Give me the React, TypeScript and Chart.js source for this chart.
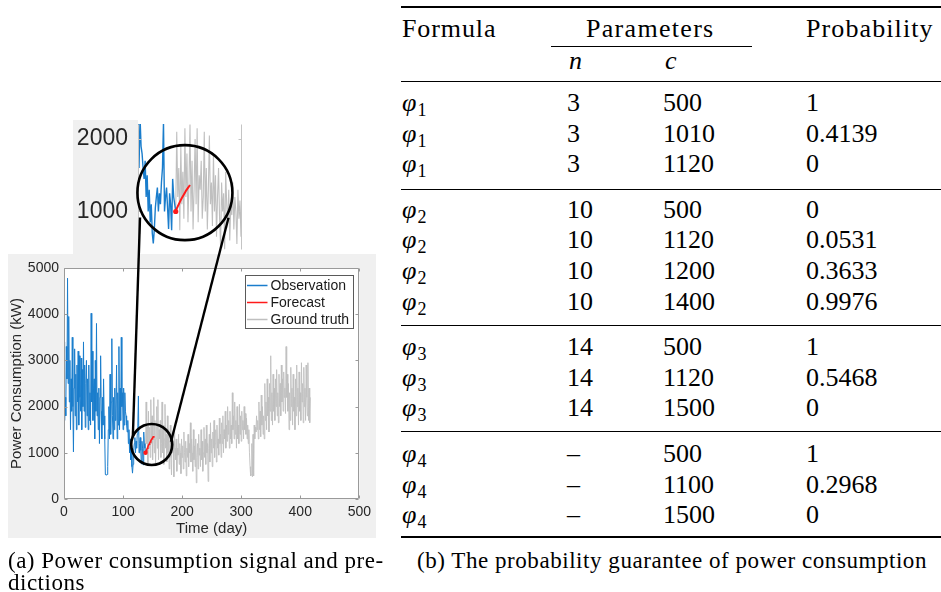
import React, { useEffect, useRef } from 'react';
import { Chart, registerables } from 'chart.js';

Chart.register(...registerables);

// ---------------- data ----------------
const seriesLabels = ['Observation', 'Forecast', 'Ground truth'];

const OBS_START_DAY = 0;
const observation = [
  3400, 1700, 2200, 1800, 3300, 2600, 4780, 2500, 3950, 2100,
  3000, 1500, 2600, 1900, 3500, 2000, 1020, 2400, 3250, 1800,
  2700, 1500, 2900, 2100, 3200, 1600, 3100, 2200, 1900, 3050,
  1500, 2800, 2000, 3400, 1900, 2900, 1550, 2500, 3000, 1800,
  2600, 1500, 2900, 1700, 2300, 1600, 4020, 2100, 3200, 1700,
  2400, 2600, 1300, 3000, 1900, 3800, 1800, 2300, 1500, 2400,
  1200, 2200, 3100, 1900, 1300, 2200, 1600, 2600, 1800, 1300,
  530, 520, 520, 530, 700, 1500, 2000, 1300, 2700, 1400,
  2100, 3470, 1800, 1300, 2200, 1500, 2400, 1700, 1950, 2900,
  1300, 2300, 1600, 3300, 1500, 2400, 1700, 3500, 2000, 2300,
  1500, 2400, 1600, 2300, 1900, 1800, 1600, 1450, 1700, 1200,
  1500, 1000, 1300, 850, 1100, 700, 560, 750, 1050, 1200,
  1330, 1000, 1250, 1100, 1400, 1600, 2230, 1000, 1200, 1330,
  1050, 760, 1250, 1100, 740, 1450, 1200, 1100, 1000,
];

const FORECAST_START_DAY = 138;
const forecast = [
  1000, 1040, 1070, 1100, 1130, 1160, 1185, 1210, 1235, 1260,
  1285, 1305, 1325, 1345, 1365,
];

const TRUTH_START_DAY = 138;
const groundTruth = [
  1000,
  2100, 1200, 1600, 740, 1900, 1100, 1550,
  900, 2150, 1200, 1800, 850, 1400, 2200,
  1000, 1700, 750, 1300, 2000, 1100, 2150,
  850, 1500, 1300, 1700, 900, 1200, 2100,
  1000, 1600, 750, 1300, 2050, 1100, 1400,
  800, 1800, 1000, 1500, 650, 1200, 1600,
  900, 520, 1400, 1000, 1250, 480, 1550,
  1100, 850, 1300, 600, 1100, 950, 1400,
  750, 1200, 1000, 550, 1300, 900, 1150,
  650, 1450, 1000, 800, 1250, 500, 1100,
  900, 1400, 700, 1200, 1000, 1650, 800,
  1300, 1000, 600, 1500, 850, 1150, 700,
  1300, 350, 900, 1200, 650, 1400, 950,
  1100, 700, 1500, 850, 1250, 600, 1000,
  1550, 900, 1300, 750, 1600, 1000, 1200,
  380, 1100, 1400, 800, 1650, 1000, 1300,
  700, 1450, 1100, 1700, 900, 1200, 1500,
  800, 1600, 1100, 1300, 950, 1750, 1200,
  1400, 900, 1650, 1200, 1800, 1000, 1500,
  1300, 1900, 1100, 1600, 1250, 2000, 1400,
  1700, 1100, 1900, 1300, 1600, 1200, 2300,
  1500, 1800, 1300, 2100, 1400, 1700, 1100,
  2000, 1300, 1600, 1200, 2050, 1400, 1800,
  1250, 1900, 1500, 1700, 1300, 2000, 1500,
  1850, 1400, 1750, 1300, 1600, 1200, 1500,
  1000, 700, 500, 520, 1200, 480, 1400,
  500, 1600, 1300, 1550, 1450, 1800, 1500,
  1700, 1300, 2100, 1500, 1900, 1350, 2250,
  1600, 2000, 1400, 1800, 1300, 2500, 1700,
  2100, 1500, 2600, 1800, 2200, 1450, 2500,
  1900, 3100, 1700, 2300, 1600, 2700, 1900,
  2400, 1700, 2600, 2000, 2800, 1800, 2300,
  1650, 2700, 2000, 2500, 1800, 2900, 2100,
  2600, 1900, 2750, 2200, 2400, 1850, 3300,
  2200, 2700, 1900, 2500, 1500, 2300, 1700,
  2850, 2000, 2400, 1600, 2700, 1900, 2200,
  1500, 2600, 1800, 2900, 2000, 2400, 1600,
  2750, 1900, 2300, 1700, 2950, 2100, 2500,
  1650, 2850, 2000, 2400, 1700, 2900, 2200,
  1800, 2950, 1700, 2400, 1650, 2200,
];

// zoom region (data units)
const mainCircleCenter = { day: 148.5, value: 1180 };
const insetCircleCenter = { day: 147, value: 1260 };
const insetDayRange = [101, 203];
const insetValueRange = [468, 2208];
const insetYTicks = [1000, 2000];

// table
const formulaIndex = [1, 1, 1, 2, 2, 2, 2, 3, 3, 3, 4, 4, 4];
const paramN = ['3', '3', '3', '10', '10', '10', '10', '14', '14', '14', '–', '–', '–'];
const paramC = ['500', '1010', '1120', '500', '1120', '1200', '1400', '500', '1120', '1500', '500', '1100', '1500'];
const probability = ['1', '0.4139', '0', '0', '0.0531', '0.3633', '0.9976', '1', '0.5468', '0', '1', '0.2968', '0'];
const captionA = ['(a) Power consumption signal and pre-', 'dictions'];
const captionB = '(b) The probability guarantee of power consumption';

// ---------------- styles ----------------
const SANS = "'Liberation Sans', Arial, Helvetica, sans-serif";
const SERIF = "'Liberation Serif', 'DejaVu Serif', 'Times New Roman', serif";
const TXT = '#262626';
const PANEL = '#f0f0f0';
const OBS_COLOR = '#1a7dcc';
const FC_COLOR = '#ff1a1a';
const GT_COLOR = '#bfbfbf';
const AXIS = '#9a9a9a';

const MAIN = { left: 8, top: 254, w: 368, h: 284 };
const INSET = { left: 73, top: 120, w: 173, h: 134 };
const OVERLAY = { w: 400, h: 545 };

const toPoints = (start: number, arr: number[]) => arr.map((v, i) => ({ x: start + i, y: v }));
const plainLabel = (v: any) => String(v);

function buildDatasets(w: { obs: number; fc: number; gt: number }) {
  return [
    {
      label: seriesLabels[0], data: toPoints(OBS_START_DAY, observation),
      borderColor: OBS_COLOR, borderWidth: w.obs, pointRadius: 0, order: 1, clip: 0,
    },
    {
      label: seriesLabels[1], data: toPoints(FORECAST_START_DAY, forecast),
      borderColor: FC_COLOR, borderWidth: w.fc, order: 0, clip: 0,
      pointRadius: (c: any) => (c.dataIndex === 0 ? w.fc + 0.6 : 0),
      pointBackgroundColor: FC_COLOR, pointBorderWidth: 0,
    },
    {
      label: seriesLabels[2], data: toPoints(TRUTH_START_DAY, groundTruth),
      borderColor: GT_COLOR, borderWidth: w.gt, pointRadius: 0, order: 2, clip: 0,
    },
  ];
}

const panelPlugin = {
  id: 'panel',
  beforeDraw(chart: any, _a: any, o: any) {
    const { ctx, chartArea: a, width, height } = chart;
    ctx.save();
    ctx.fillStyle = PANEL;
    if (o.full) ctx.fillRect(0, 0, width, height);
    else ctx.fillRect(0, 0, a.left, height);
    ctx.fillStyle = '#ffffff';
    ctx.fillRect(a.left, a.top, a.right - a.left, a.bottom - a.top);
    ctx.restore();
  },
  afterDatasetsDraw(chart: any, _a: any, o: any) {
    const { ctx, chartArea: a, scales } = chart;
    ctx.save();
    ctx.strokeStyle = o.axis;
    ctx.lineWidth = 1;
    const L = Math.round(a.left) + 0.5, R = Math.round(a.right) - 0.5;
    const T = Math.round(a.top) + 0.5, B = Math.round(a.bottom) - 0.5;
    ctx.beginPath();
    ctx.moveTo(L, T); ctx.lineTo(L, B);
    ctx.moveTo(R, T); ctx.lineTo(R, B);
    if (o.full) {
      ctx.moveTo(L, T); ctx.lineTo(R, T);
      ctx.moveTo(L, B); ctx.lineTo(R, B);
    }
    const tl = o.tick;
    scales.y.ticks.forEach((t: any) => {
      const y = Math.round(scales.y.getPixelForValue(t.value)) + 0.5;
      ctx.moveTo(L, y); ctx.lineTo(L + tl, y);
      ctx.moveTo(R, y); ctx.lineTo(R - tl, y);
    });
    if (o.full) {
      scales.x.ticks.forEach((t: any) => {
        const x = Math.round(scales.x.getPixelForValue(t.value)) + 0.5;
        ctx.moveTo(x, B); ctx.lineTo(x, B - tl);
        ctx.moveTo(x, T); ctx.lineTo(x, T + tl);
      });
    }
    ctx.stroke();
    ctx.restore();
  },
};

const boxLegendPlugin = {
  id: 'boxLegend',
  afterDraw(chart: any) {
    const { ctx, chartArea: a } = chart;
    const bw = 108, bh = 53;
    const bx = Math.round(a.right - 6 - bw) + 0.5, by = Math.round(a.top + 7) + 0.5;
    ctx.save();
    ctx.fillStyle = '#ffffff';
    ctx.fillRect(bx, by, bw, bh);
    ctx.strokeStyle = '#5a5a5a';
    ctx.lineWidth = 1;
    ctx.strokeRect(bx, by, bw, bh);
    ctx.font = `14px ${SANS}`;
    ctx.textBaseline = 'middle';
    chart.data.datasets.forEach((d: any, i: number) => {
      const y = by + 10 + i * 17;
      ctx.strokeStyle = d.borderColor;
      ctx.lineWidth = 1.5;
      ctx.beginPath();
      ctx.moveTo(bx + 1.5, y); ctx.lineTo(bx + 22, y);
      ctx.stroke();
      ctx.fillStyle = '#1a1a1a';
      ctx.fillText(d.label, bx + 25, y + 0.5);
    });
    ctx.restore();
  },
};

function mainConfig(): any {
  return {
    type: 'line',
    data: { datasets: buildDatasets({ obs: 1, fc: 1.6, gt: 0.9 }) },
    plugins: [panelPlugin, boxLegendPlugin],
    options: {
      responsive: false, animation: false, devicePixelRatio: 1, events: [],
      layout: { padding: { left: 0, top: 14, right: 14, bottom: 0 } },
      plugins: { legend: { display: false }, tooltip: { enabled: false }, panel: { full: true, axis: AXIS, tick: 3 } },
      scales: {
        x: {
          type: 'linear', min: 0, max: 500,
          ticks: { stepSize: 100, font: { family: SANS, size: 14 }, color: TXT, padding: 5, maxRotation: 0, callback: plainLabel },
          grid: { display: false, drawTicks: false }, border: { display: false },
          title: { display: true, text: 'Time (day)', font: { family: SANS, size: 15 }, color: TXT, padding: 0 },
          afterFit: (s: any) => { s.height = 39; },
        },
        y: {
          type: 'linear', min: 0, max: 5000,
          ticks: { stepSize: 1000, font: { family: SANS, size: 14 }, color: TXT, padding: 5, callback: plainLabel },
          grid: { display: false, drawTicks: false }, border: { display: false },
          title: { display: true, text: 'Power Consumption (kW)', font: { family: SANS, size: 15 }, color: TXT, padding: 0 },
          afterFit: (s: any) => { s.width = 56; },
        },
      },
    },
  };
}

function insetConfig(): any {
  return {
    type: 'line',
    data: { datasets: buildDatasets({ obs: 1.4, fc: 2, gt: 1.1 }) },
    plugins: [panelPlugin],
    options: {
      responsive: false, animation: false, devicePixelRatio: 1, events: [],
      layout: { padding: { left: 0, top: 0, right: 3, bottom: 0 } },
      plugins: { legend: { display: false }, tooltip: { enabled: false }, panel: { full: false, axis: '#c4c4c4', tick: 3 } },
      scales: {
        x: { type: 'linear', display: false, min: insetDayRange[0], max: insetDayRange[1] },
        y: {
          type: 'linear', min: insetValueRange[0], max: insetValueRange[1],
          afterBuildTicks: (s: any) => { s.ticks = insetYTicks.map((v) => ({ value: v })); },
          ticks: { font: { family: SANS, size: 23 }, color: TXT, padding: 10, callback: plainLabel },
          grid: { display: false, drawTicks: false }, border: { display: false },
          afterFit: (s: any) => {
            s.width = 65;
            s.paddingTop = 0;
            s.paddingBottom = 0;
          },
        },
      },
    },
  };
}

function drawOverlay(cv: HTMLCanvasElement, main: any, inset: any) {
  const ctx = cv.getContext('2d')!;
  ctx.clearRect(0, 0, cv.width, cv.height);
  const m = {
    x: MAIN.left + main.scales.x.getPixelForValue(mainCircleCenter.day),
    y: MAIN.top + main.scales.y.getPixelForValue(mainCircleCenter.value),
    r: 20.5,
  };
  const n = {
    x: INSET.left + inset.scales.x.getPixelForValue(insetCircleCenter.day),
    y: INSET.top + inset.scales.y.getPixelForValue(insetCircleCenter.value),
    r: 47.5,
  };
  ctx.strokeStyle = '#000000';
  ctx.lineWidth = 2.6;
  ctx.beginPath(); ctx.arc(m.x, m.y, m.r, 0, Math.PI * 2); ctx.stroke();
  ctx.beginPath(); ctx.arc(n.x, n.y, n.r, 0, Math.PI * 2); ctx.stroke();
  const pt = (c: any, deg: number, k: number) => ({
    x: c.x + c.r * k * Math.cos((deg * Math.PI) / 180),
    y: c.y - c.r * k * Math.sin((deg * Math.PI) / 180),
  });
  const pairs = [
    [pt(m, 157, 1), pt(n, 209, 1.08)],
    [pt(m, 8, 0.95), pt(n, -30, 1.06)],
  ];
  ctx.lineWidth = 2.4;
  pairs.forEach(([p, q]) => {
    ctx.beginPath(); ctx.moveTo(p.x, p.y); ctx.lineTo(q.x, q.y); ctx.stroke();
  });
}

// ---------------- table helpers ----------------
const ROW_Y0 = 103;
const ROW_PITCH = 30.6;
const GROUP_GAP = 15;
const COL = { f: 402, n: 567, c: 663, p: 806 };
const groupRuleY = [189, 325, 431];

function Txt(props: { x: number; y: number; size?: number; italic?: boolean; ls?: number; children: any }) {
  const size = props.size ?? 26;
  const lh = 30;
  return (
    <div
      style={{
        position: 'absolute', left: props.x, top: props.y - lh / 2, height: lh, lineHeight: `${lh}px`,
        fontFamily: SERIF, fontSize: size, fontStyle: props.italic ? 'italic' : 'normal',
        letterSpacing: props.ls ?? 0, whiteSpace: 'nowrap', color: '#000',
      }}
    >
      {props.children}
    </div>
  );
}

function Rule(props: { x: number; y: number; w: number; h: number }) {
  return <div style={{ position: 'absolute', left: props.x, top: props.y, width: props.w, height: props.h, background: '#000' }} />;
}

export default function App() {
  const mainRef = useRef<HTMLCanvasElement>(null);
  const insetRef = useRef<HTMLCanvasElement>(null);
  const overlayRef = useRef<HTMLCanvasElement>(null);

  useEffect(() => {
    const main = new Chart(mainRef.current!, mainConfig());
    const inset = new Chart(insetRef.current!, insetConfig());
    drawOverlay(overlayRef.current!, main, inset);
    return () => {
      main.destroy();
      inset.destroy();
    };
  }, []);

  let group = 0;
  const rows = formulaIndex.map((f, i) => {
    if (i > 0 && formulaIndex[i - 1] !== f) group += 1;
    const y = ROW_Y0 + i * ROW_PITCH + group * GROUP_GAP;
    return (
      <React.Fragment key={i}>
        <Txt x={COL.f} y={y}>
          <span style={{ fontStyle: 'italic' }}>φ</span>
          <span style={{ fontSize: 18, position: 'relative', top: 5, marginLeft: 1 }}>{f}</span>
        </Txt>
        <Txt x={COL.n} y={y}>{paramN[i]}</Txt>
        <Txt x={COL.c} y={y}>{paramC[i]}</Txt>
        <Txt x={COL.p} y={y}>{probability[i]}</Txt>
      </React.Fragment>
    );
  });

  return (
    <div style={{ position: 'absolute', left: 0, top: 0, width: 941, height: 592, overflow: 'hidden', background: '#fff' }}>
      <canvas
        ref={mainRef} width={MAIN.w} height={MAIN.h}
        style={{ position: 'absolute', left: MAIN.left, top: MAIN.top, width: MAIN.w, height: MAIN.h }}
      />
      <canvas
        ref={insetRef} width={INSET.w} height={INSET.h}
        style={{ position: 'absolute', left: INSET.left, top: INSET.top, width: INSET.w, height: INSET.h }}
      />
      <canvas
        ref={overlayRef} width={OVERLAY.w} height={OVERLAY.h}
        style={{ position: 'absolute', left: 0, top: 0, width: OVERLAY.w, height: OVERLAY.h, pointerEvents: 'none' }}
      />

      {/* table */}
      <Rule x={401} y={6} w={540} h={2} />
      <Txt x={COL.f} y={29} ls={0.9}>Formula</Txt>
      <Txt x={586} y={29} ls={1.3}>Parameters</Txt>
      <Txt x={COL.p} y={29} ls={1.1}>Probability</Txt>
      <Rule x={551} y={46} w={201} h={1} />
      <Txt x={COL.n + 2} y={61} italic>n</Txt>
      <Txt x={COL.c + 2} y={61} italic>c</Txt>
      <Rule x={401} y={81} w={540} h={1} />
      {rows}
      {groupRuleY.map((y, i) => <Rule key={i} x={401} y={y} w={540} h={1} />)}
      <Rule x={401} y={536} w={540} h={2} />

      {/* captions */}
      <div style={{ position: 'absolute', left: 8, top: 550, lineHeight: '22px', fontFamily: SERIF, fontSize: 23, letterSpacing: 0.5, whiteSpace: 'nowrap', color: '#000' }}>
        <div>{captionA[0]}</div>
        <div>{captionA[1]}</div>
      </div>
      <div style={{ position: 'absolute', left: 417, top: 550, lineHeight: '22px', fontFamily: SERIF, fontSize: 23, letterSpacing: 0.55, whiteSpace: 'nowrap', color: '#000' }}>
        {captionB}
      </div>
    </div>
  );
}
